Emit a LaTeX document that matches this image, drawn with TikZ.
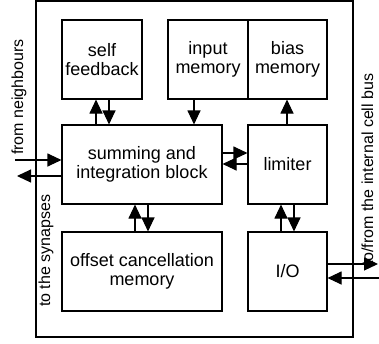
\documentclass[tikz,border=0pt]{standalone}
\usepackage{fontspec}
\setmainfont{Liberation Sans}
\usetikzlibrary{arrows.meta}
\tikzset{blk/.style={draw,line width=1.1pt,align=center,inner sep=0pt,font=\fontsize{18}{19}\selectfont},arr/.style={-{Triangle[length=14pt,width=13pt]},line width=1.1pt},side/.style={rotate=90,anchor=base west,inner sep=0pt,font=\fontsize{16}{18}\selectfont}}

\begin{document}
\begin{tikzpicture}[x=1pt,y=-1pt]
\useasboundingbox (0,0) rectangle (379,343);
\node[draw,line width=1.1pt,minimum width=317pt,minimum height=336pt,inner sep=0pt] (cell) at (194.5,169) {};
\node[blk,minimum width=80pt,minimum height=79pt] (selffb) at (102,59.5) {self\\feedback};
\node[blk,minimum width=80pt,minimum height=79pt] (inmem) at (208,59.5) {input\\memory};
\node[blk,minimum width=79pt,minimum height=79pt] (biasmem) at (287.5,59.5) {bias\\memory};
\node[blk,minimum width=160pt,minimum height=79pt] (sum) at (142,164.5) {summing and\\integration block};
\node[blk,minimum width=79pt,minimum height=79pt] (lim) at (287.5,164.5) {limiter};
\node[blk,minimum width=160pt,minimum height=79pt] (offset) at (142,271.5) {offset cancellation\\memory};
\node[blk,minimum width=79pt,minimum height=79pt] (io) at (287.5,271.5) {I/O};
% links between the blocks
\draw[arr] (sum.north -| 96,0) -- (selffb.south -| 96,0);
\draw[arr] (selffb.south -| 109,0) -- (sum.north -| 109,0);
\draw[arr] (inmem.south -| 194,0) -- (sum.north -| 194,0);
\draw[arr] (lim.north -| 287,0) -- (biasmem.south -| 287,0);
\draw[arr] (sum.east |- 0,153) -- (lim.west |- 0,153);
\draw[arr] (lim.west |- 0,164) -- (sum.east |- 0,164);
\draw[arr] (offset.north -| 135,0) -- (sum.south -| 135,0);
\draw[arr] (sum.south -| 148,0) -- (offset.north -| 148,0);
\draw[arr] (io.north -| 281,0) -- (lim.south -| 281,0);
\draw[arr] (lim.south -| 294,0) -- (io.north -| 294,0);
% outside connections
\coordinate (nbr) at (15,160);
\coordinate (syn) at (17,176);
\coordinate (busout) at (378,264);
\coordinate (busin) at (379,278);
\draw[arr] (nbr) -- (sum.west |- nbr);
\draw[arr] (sum.west |- syn) -- (syn);
\draw[arr] (io.east |- busout) -- (busout);
\draw[arr] (busin) -- (io.east |- busin);
\node[side] (nbrlbl) at (23,155) {from neighbours};
\node[side] (synlbl) at (50,307) {to the synapses};
\node[side] (buslbl) at (373,266) {to/from the internal cell bus};
\end{tikzpicture}
\end{document}
